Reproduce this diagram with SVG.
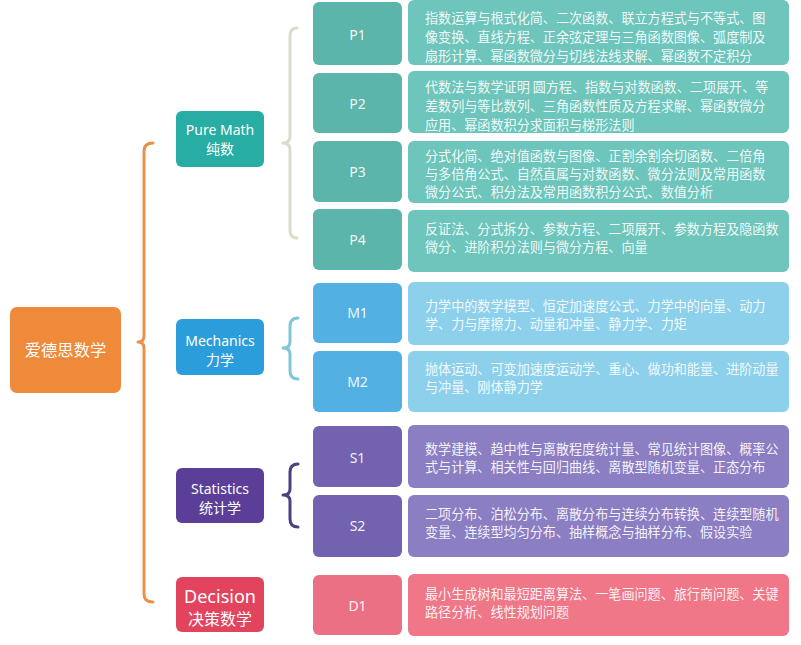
<svg xmlns="http://www.w3.org/2000/svg" width="801" height="645" viewBox="0 0 801 645">
<style>
.t{font-family:"Noto Sans","Noto Sans CJK SC",sans-serif;fill:#fff;}
.c{text-anchor:middle;}
.d{font-family:"Noto Sans CJK SC","Noto Sans",sans-serif;font-size:13.1px;fill:#fff;fill-opacity:0.92;}
.k{font-size:14px;fill-opacity:0.92;}
.br{fill:none;stroke-width:3;stroke-linecap:round;stroke-linejoin:round;}
</style>
<rect width="801" height="645" fill="#fff"/>
<g id="connectors">
<path class="br" stroke="#E8914A" d="M153 143 Q144 143 144 151 L144 336 Q144 342 138 342 Q144 342 144 348 L144 594 Q144 602 153 602"/>
<path class="br" stroke="#DCDCC6" d="M297 28 Q290 28 290 36 L290 136 Q290 143 283 143 Q290 143 290 150 L290 230 Q290 238 297 238"/>
<path class="br" stroke="#80C6D8" d="M298 318 Q290 318 290 326 L290 342 Q290 348 283 348 Q290 348 290 354 L290 371 Q290 379 298 379"/>
<path class="br" stroke="#4B4180" d="M298 464 Q290 464 290 472 L290 489 Q290 495 283 495 Q290 495 290 501 L290 519 Q290 527 298 527"/>
</g>
<g id="root"><rect x="10" y="307" width="111" height="86" rx="7" fill="#EE8A3A"/><text class="t c" x="65.5" y="356" font-size="16.3">爱德思数学</text></g>
<g id="pure"><rect x="176" y="111" width="88" height="56" rx="6" fill="#27ADA3"/><text class="t c" x="220" y="135" font-size="14">Pure Math</text><text class="t c" x="220" y="154" font-size="14">纯数</text></g>
<g id="mech"><rect x="176" y="319" width="88" height="56" rx="6" fill="#2B9DDB"/><text class="t c" x="220" y="346" font-size="14">Mechanics</text><text class="t c" x="220" y="365" font-size="14">力学</text></g>
<g id="stat"><rect x="176" y="468" width="88" height="55" rx="6" fill="#5A3E97"/><text class="t c" x="220" y="494" font-size="14">Statistics</text><text class="t c" x="220" y="513" font-size="14">统计学</text></g>
<g id="dec"><rect x="176" y="577" width="88" height="55" rx="6" fill="#E2445E"/><text class="t c" x="220" y="603" font-size="18">Decision</text><text class="t c" x="220" y="625" font-size="16">决策数学</text></g>

<g id="p1"><rect x="313" y="2" width="89" height="63" rx="6" fill="#5BB5AA"/><text class="t c k" x="357.5" y="40">P1</text>
<rect x="408" y="0" width="381" height="65" rx="6" fill="#6DC5BC"/>
<text class="d"><tspan x="425" y="23">指数运算与根式化简、二次函数、联立方程式与不等式、图</tspan><tspan x="425" y="42">像变换、直线方程、正余弦定理与三角函数图像、弧度制及</tspan><tspan x="425" y="61">扇形计算、幂函数微分与切线法线求解、幂函数不定积分</tspan></text></g>
<g id="p2"><rect x="313" y="73" width="89" height="60" rx="6" fill="#5BB5AA"/><text class="t c k" x="357.5" y="109">P2</text>
<rect x="408" y="71" width="381" height="62" rx="6" fill="#6DC5BC"/>
<text class="d"><tspan x="425" y="92">代数法与数学证明 圆方程、指数与对数函数、二项展开、等</tspan><tspan x="425" y="111">差数列与等比数列、三角函数性质及方程求解、幂函数微分</tspan><tspan x="425" y="130">应用、幂函数积分求面积与梯形法则</tspan></text></g>
<g id="p3"><rect x="313" y="141" width="89" height="61" rx="6" fill="#5BB5AA"/><text class="t c k" x="357.5" y="177">P3</text>
<rect x="408" y="141" width="381" height="62" rx="6" fill="#6DC5BC"/>
<text class="d"><tspan x="425" y="161">分式化简、绝对值函数与图像、正割余割余切函数、二倍角</tspan><tspan x="425" y="179">与多倍角公式、自然直属与对数函数、微分法则及常用函数</tspan><tspan x="425" y="197">微分公式、积分法及常用函数积分公式、数值分析</tspan></text></g>
<g id="p4"><rect x="313" y="209" width="89" height="61" rx="6" fill="#5BB5AA"/><text class="t c k" x="357.5" y="245">P4</text>
<rect x="408" y="210" width="381" height="62" rx="6" fill="#6DC5BC"/>
<text class="d"><tspan x="425" y="234">反证法、分式拆分、参数方程、二项展开、参数方程及隐函数</tspan><tspan x="425" y="252">微分、进阶积分法则与微分方程、向量</tspan></text></g>

<g id="m1"><rect x="313" y="283" width="89" height="60" rx="6" fill="#52B0E2"/><text class="t c k" x="357.5" y="318">M1</text>
<rect x="408" y="282" width="381" height="63" rx="6" fill="#8DD0EC"/>
<text class="d"><tspan x="425" y="311">力学中的数学模型、恒定加速度公式、力学中的向量、动力</tspan><tspan x="425" y="329">学、力与摩擦力、动量和冲量、静力学、力矩</tspan></text></g>
<g id="m2"><rect x="313" y="351" width="89" height="61" rx="6" fill="#52B0E2"/><text class="t c k" x="357.5" y="387">M2</text>
<rect x="408" y="351" width="381" height="61" rx="6" fill="#8DD0EC"/>
<text class="d"><tspan x="425" y="374">抛体运动、可变加速度运动学、重心、做功和能量、进阶动量</tspan><tspan x="425" y="392">与冲量、刚体静力学</tspan></text></g>

<g id="s1"><rect x="313" y="426" width="89" height="61" rx="6" fill="#7262B0"/><text class="t c k" x="357.5" y="463">S1</text>
<rect x="408" y="425" width="381" height="63" rx="6" fill="#8B7EC2"/>
<text class="d"><tspan x="425" y="454">数学建模、趋中性与离散程度统计量、常见统计图像、概率公</tspan><tspan x="425" y="472">式与计算、相关性与回归曲线、离散型随机变量、正态分布</tspan></text></g>
<g id="s2"><rect x="313" y="495" width="89" height="62" rx="6" fill="#7262B0"/><text class="t c k" x="357.5" y="531">S2</text>
<rect x="408" y="495" width="381" height="62" rx="6" fill="#8B7EC2"/>
<text class="d"><tspan x="425" y="519">二项分布、泊松分布、离散分布与连续分布转换、连续型随机</tspan><tspan x="425" y="537">变量、连续型均匀分布、抽样概念与抽样分布、假设实验</tspan></text></g>

<g id="d1"><rect x="313" y="575" width="89" height="60" rx="6" fill="#EC7083"/><text class="t c k" x="357.5" y="611">D1</text>
<rect x="408" y="574" width="381" height="62" rx="6" fill="#EF7788"/>
<text class="d"><tspan x="425" y="599">最小生成树和最短距离算法、一笔画问题、旅行商问题、关键</tspan><tspan x="425" y="617">路径分析、线性规划问题</tspan></text></g>
</svg>
